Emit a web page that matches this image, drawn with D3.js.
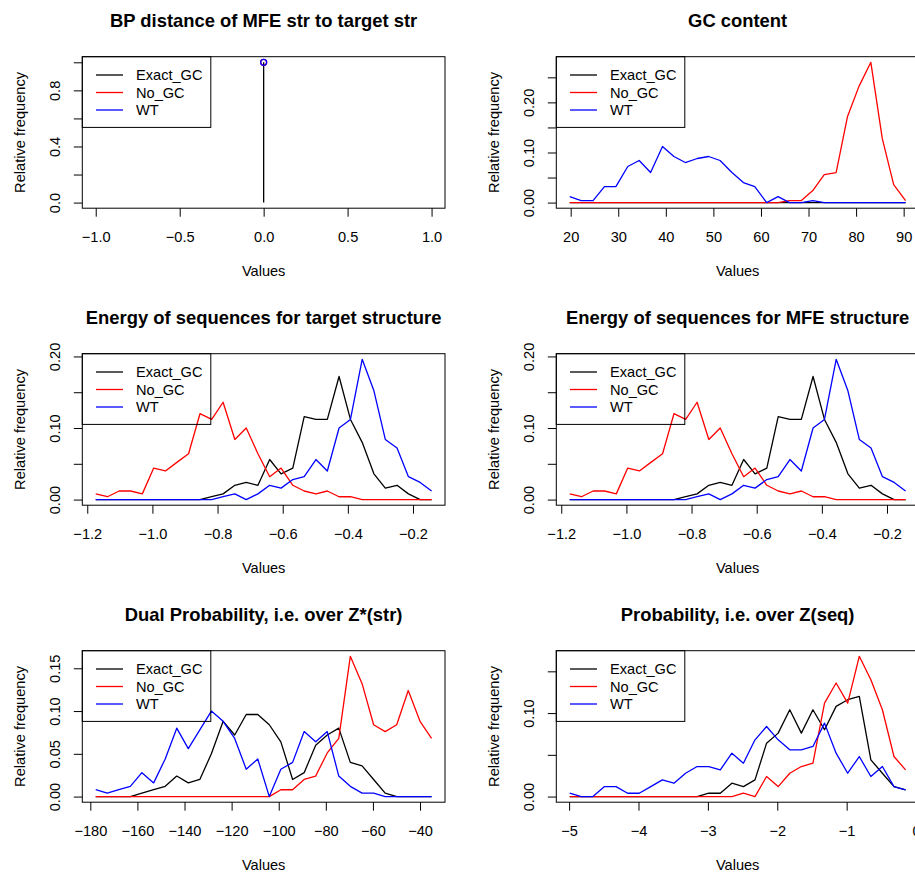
<!DOCTYPE html>
<html>
<head>
<meta charset="utf-8">
<script src="https://cdn.jsdelivr.net/npm/d3@7"></script>
<style>
  body { margin: 0; background: #fff; }
  text { font-family: "Liberation Sans", Arial, Helvetica, sans-serif; }
</style>
</head>
<body>
<script>

//Series names and colours (same for every panel)
var seriesNames = ["Exact_GC", "No_GC", "WT"];
var seriesColors = ["#000000", "#ff0000", "#0000ff"];

//BP distance of MFE str to target str
var bpX = [0];
var bpExact = [1];
var bpNoGC = [1];
var bpWT = [1];
var bpXTicks = [-1, -0.5, 0, 0.5, 1];
var bpYTicks = [0, 0.2, 0.4, 0.6, 0.8, 1.0];
var bpYLabels = [0, 0.4, 0.8];

//GC content
var gcX = [19.8, 22.2, 24.7, 27.1, 29.5, 32.0, 34.4, 36.8, 39.3, 41.7, 44.1, 46.6, 49.0, 51.4, 53.9,
           56.3, 58.7, 61.2, 63.6, 66.0, 68.5, 70.9, 73.3, 75.8, 78.2, 80.6, 83.1, 85.5, 87.9, 90.4];
var gcExact = [0, 0, 0, 0, 0, 0, 0, 0, 0, 0, 0, 0, 0, 0, 0,
               0, 0, 0, 0, 0, 0, 0, 0, 0, 0, 0, 0, 0, 0, 0];
var gcNoGC = [0, 0, 0, 0, 0, 0, 0, 0, 0, 0, 0, 0, 0, 0, 0,
              0, 0, 0, 0, 0.004, 0.004, 0.024, 0.056, 0.060, 0.172, 0.232, 0.280, 0.128, 0.036, 0.004];
var gcWT = [0.012, 0.004, 0.004, 0.032, 0.032, 0.072, 0.084, 0.060, 0.112, 0.092, 0.080, 0.088, 0.092, 0.084, 0.060,
            0.040, 0.032, 0, 0.012, 0, 0, 0.004, 0, 0, 0, 0, 0, 0, 0, 0];
var gcXTicks = [20, 30, 40, 50, 60, 70, 80, 90];
var gcYTicks = [0, 0.05, 0.10, 0.15, 0.20, 0.25];
var gcYLabels = [0, 0.10, 0.20];

//Energy of sequences (target structure and MFE structure)
var enX = [-1.174, -1.138, -1.102, -1.067, -1.031, -0.996, -0.960, -0.925, -0.889, -0.854,
           -0.818, -0.783, -0.747, -0.712, -0.676, -0.640, -0.605, -0.569, -0.534, -0.498,
           -0.463, -0.427, -0.392, -0.356, -0.320, -0.285, -0.249, -0.214, -0.178, -0.143];
var enExact = [0, 0, 0, 0, 0, 0, 0, 0, 0, 0,
               0.004, 0.008, 0.020, 0.024, 0.020, 0.056, 0.036, 0.044, 0.116, 0.112,
               0.112, 0.172, 0.112, 0.080, 0.036, 0.016, 0.020, 0.008, 0, 0];
var enNoGC = [0.008, 0.004, 0.012, 0.012, 0.008, 0.044, 0.040, 0.052, 0.064, 0.120,
              0.112, 0.136, 0.084, 0.100, 0.064, 0.032, 0.044, 0.020, 0.012, 0.008,
              0.012, 0.004, 0.004, 0, 0, 0, 0, 0, 0, 0];
var enWT = [0, 0, 0, 0, 0, 0, 0, 0, 0, 0,
            0, 0.004, 0.008, 0, 0.008, 0.020, 0.016, 0.028, 0.032, 0.056,
            0.040, 0.100, 0.112, 0.196, 0.152, 0.084, 0.072, 0.032, 0.024, 0.012];
var enXTicks = [-1.2, -1.0, -0.8, -0.6, -0.4, -0.2];
var enYTicks = [0, 0.05, 0.10, 0.15, 0.20];
var enYLabels = [0, 0.10, 0.20];

//Dual Probability, i.e. over Z*(str)
var duX = [-177.7, -172.8, -167.9, -163.0, -158.1, -153.1, -148.2, -143.3, -138.4, -133.5,
           -128.6, -123.6, -118.7, -113.8, -108.9, -104.0, -99.1, -94.1, -89.2, -84.3,
           -79.4, -74.5, -69.6, -64.6, -59.7, -54.8, -49.9, -45.0, -40.0, -35.1];
var duExact = [0, 0, 0, 0, 0.004, 0.008, 0.012, 0.024, 0.016, 0.020,
               0.050, 0.088, 0.072, 0.096, 0.096, 0.084, 0.064, 0.020, 0.028, 0.060,
               0.072, 0.080, 0.040, 0.036, 0.020, 0.004, 0, 0, 0, 0];
var duNoGC = [0, 0, 0, 0, 0, 0, 0, 0, 0, 0,
              0, 0, 0, 0, 0, 0, 0.008, 0.008, 0.020, 0.024,
              0.051, 0.068, 0.164, 0.132, 0.084, 0.076, 0.084, 0.124, 0.088, 0.068];
var duWT = [0.008, 0.004, 0.008, 0.012, 0.028, 0.016, 0.044, 0.080, 0.056, 0.078,
            0.100, 0.088, 0.068, 0.032, 0.044, 0, 0.032, 0.040, 0.076, 0.064,
            0.076, 0.024, 0.012, 0.004, 0.004, 0, 0, 0, 0, 0];
var duXTicks = [-180, -160, -140, -120, -100, -80, -60, -40];
var duYTicks = [0, 0.05, 0.10, 0.15];
var duYLabels = [0, 0.05, 0.10, 0.15];

//Probability, i.e. over Z(seq)
var prX = [-4.991, -4.824, -4.657, -4.490, -4.323, -4.157, -3.990, -3.823, -3.656, -3.489,
           -3.322, -3.155, -2.988, -2.821, -2.654, -2.488, -2.321, -2.154, -1.987, -1.820,
           -1.653, -1.486, -1.319, -1.152, -0.985, -0.818, -0.651, -0.485, -0.318, -0.151];
var prExact = [0, 0, 0, 0, 0, 0, 0, 0, 0, 0,
               0, 0, 0.004, 0.004, 0.016, 0.012, 0.020, 0.064, 0.076, 0.104,
               0.076, 0.104, 0.080, 0.108, 0.116, 0.120, 0.044, 0.028, 0.012, 0.008];
var prNoGC = [0, 0, 0, 0, 0, 0, 0, 0, 0, 0,
              0, 0, 0, 0, 0, 0.004, 0, 0.024, 0.012, 0.028,
              0.036, 0.040, 0.112, 0.136, 0.112, 0.168, 0.140, 0.104, 0.048, 0.032];
var prWT = [0.004, 0, 0, 0.012, 0.012, 0.004, 0.004, 0.012, 0.020, 0.016,
            0.028, 0.036, 0.036, 0.032, 0.052, 0.040, 0.068, 0.084, 0.068, 0.056,
            0.056, 0.060, 0.088, 0.052, 0.028, 0.048, 0.024, 0.036, 0.012, 0.008];
var prXTicks = [-5, -4, -3, -2, -1, 0];
var prYTicks = [0, 0.05, 0.10, 0.15];
var prYLabels = [0, 0.10];

//Panel table built from the arrays above
var panels = [
  { title: "BP distance of MFE str to target str", col: 0, row: 0, x: bpX, ys: [bpExact, bpNoGC, bpWT],
    xTicks: bpXTicks, yTicks: bpYTicks, yLabels: bpYLabels, xFmt: ".1f", yFmt: ".1f", spike: true },
  { title: "GC content", col: 1, row: 0, x: gcX, ys: [gcExact, gcNoGC, gcWT],
    xTicks: gcXTicks, yTicks: gcYTicks, yLabels: gcYLabels, xFmt: ".0f", yFmt: ".2f" },
  { title: "Energy of sequences for target structure", col: 0, row: 1, x: enX, ys: [enExact, enNoGC, enWT],
    xTicks: enXTicks, yTicks: enYTicks, yLabels: enYLabels, xFmt: ".1f", yFmt: ".2f" },
  { title: "Energy of sequences for MFE structure", col: 1, row: 1, x: enX, ys: [enExact, enNoGC, enWT],
    xTicks: enXTicks, yTicks: enYTicks, yLabels: enYLabels, xFmt: ".1f", yFmt: ".2f" },
  { title: "Dual Probability, i.e. over Z*(str)", col: 0, row: 2, x: duX, ys: [duExact, duNoGC, duWT],
    xTicks: duXTicks, yTicks: duYTicks, yLabels: duYLabels, xFmt: ".0f", yFmt: ".2f" },
  { title: "Probability, i.e. over Z(seq)", col: 1, row: 2, x: prX, ys: [prExact, prNoGC, prWT],
    xTicks: prXTicks, yTicks: prYTicks, yLabels: prYLabels, xFmt: ".0f", yFmt: ".2f" }
];

//Create the SVG Viewport
var svg = d3.select("body").append("svg")
            .attr("width", 915)
            .attr("height", 872);

var fontSize = 14.6;

//R style axis range: data range widened by 4% on each side
function rRange(ext) {
  var lo = ext[0], hi = ext[1];
  if (lo === hi) { lo = lo - 1; hi = hi + 1; }
  var pad = (hi - lo) * 0.04;
  return [lo - pad, hi + pad];
}

function drawPanel(p) {
  var left = 82.3 + p.col * 474;
  var top = 56.7 + p.row * 297;
  var w = 362.7, h = 151.5;

  var allY = [0].concat(p.ys[0], p.ys[1], p.ys[2]);
  var x = d3.scaleLinear().domain(rRange(d3.extent(p.x))).range([left, left + w]);
  var y = d3.scaleLinear().domain(rRange(d3.extent(allY))).range([top + h, top]);

  var g = svg.append("g");

  //Curves
  if (p.spike) {
    //first series as vertical spike, the others as open circles
    g.selectAll("line.spike")
     .data(p.x)
     .enter()
     .append("line")
     .attr("x1", function (d) { return x(d); })
     .attr("x2", function (d) { return x(d); })
     .attr("y1", y(0))
     .attr("y2", function (d, i) { return y(p.ys[0][i]); })
     .attr("stroke", seriesColors[0])
     .attr("stroke-width", 1.3);
    [1, 2].forEach(function (s) {
      g.selectAll("circle.s" + s)
       .data(p.x)
       .enter()
       .append("circle")
       .attr("cx", function (d) { return x(d); })
       .attr("cy", function (d, i) { return y(p.ys[s][i]); })
       .attr("r", 3)
       .attr("fill", "none")
       .attr("stroke", seriesColors[s])
       .attr("stroke-width", 1.3);
    });
  } else {
    p.ys.forEach(function (vals, s) {
      var line = d3.line()
                   .x(function (d, i) { return x(p.x[i]); })
                   .y(function (d) { return y(d); });
      g.append("path")
       .datum(vals)
       .attr("d", line)
       .attr("fill", "none")
       .attr("stroke", seriesColors[s])
       .attr("stroke-width", 1.3)
       .attr("stroke-linejoin", "round");
    });
  }

  //Box round the plot region
  g.append("rect")
   .attr("x", left).attr("y", top)
   .attr("width", w).attr("height", h)
   .attr("fill", "none")
   .attr("stroke", "#000")
   .attr("stroke-width", 1);

  //X axis
  var xFmt = d3.format(p.xFmt);
  g.append("g")
   .attr("transform", "translate(0," + (top + h) + ")")
   .call(d3.axisBottom(x).tickValues(p.xTicks).tickFormat(xFmt)
           .tickSize(8.5).tickSizeOuter(0).tickPadding(14.5))
   .call(function (a) { a.select(".domain").remove(); })
   .attr("font-size", fontSize)
   .attr("font-family", null);

  //Y axis, labels turned like R does
  var yFmt = d3.format(p.yFmt);
  g.append("g")
   .attr("transform", "translate(" + left + ",0)")
   .call(d3.axisLeft(y).tickValues(p.yTicks)
           .tickFormat(function (d) {
             var show = p.yLabels.some(function (v) { return Math.abs(v - d) < 1e-9; });
             return show ? yFmt(d) : "";
           })
           .tickSize(8.5).tickSizeOuter(0))
   .call(function (a) {
     a.select(".domain").remove();
     a.selectAll(".tick text")
      .attr("transform", "rotate(-90)")
      .attr("x", 0)
      .attr("y", -22)
      .attr("dy", 0)
      .attr("text-anchor", "middle");
   })
   .attr("font-size", fontSize)
   .attr("font-family", null);

  //Title
  g.append("text")
   .attr("x", left + w / 2)
   .attr("y", top - 30)
   .attr("text-anchor", "middle")
   .attr("font-size", 18.4)
   .attr("font-weight", "bold")
   .text(p.title);

  //Axis titles
  g.append("text")
   .attr("x", left + w / 2)
   .attr("y", top + h + 68)
   .attr("text-anchor", "middle")
   .attr("font-size", fontSize)
   .text("Values");

  g.append("text")
   .attr("transform", "translate(" + (left - 57.3) + "," + (top + h / 2) + ") rotate(-90)")
   .attr("text-anchor", "middle")
   .attr("font-size", fontSize)
   .text("Relative frequency");

  //Legend
  var leg = g.append("g");
  leg.append("rect")
     .attr("x", left).attr("y", top)
     .attr("width", 128.5).attr("height", 70.7)
     .attr("fill", "none")
     .attr("stroke", "#000")
     .attr("stroke-width", 1);
  var rows = leg.selectAll("g.row")
                .data(seriesNames)
                .enter()
                .append("g");
  rows.append("line")
      .attr("x1", left + 13.7)
      .attr("x2", left + 40.7)
      .attr("y1", function (d, i) { return top + 18.3 + 17.5 * i; })
      .attr("y2", function (d, i) { return top + 18.3 + 17.5 * i; })
      .attr("stroke", function (d, i) { return seriesColors[i]; })
      .attr("stroke-width", 1.3);
  rows.append("text")
      .attr("x", left + 53.7)
      .attr("y", function (d, i) { return top + 18.3 + 17.5 * i; })
      .attr("dy", "0.36em")
      .attr("font-size", fontSize)
      .text(function (d) { return d; });
}

panels.forEach(drawPanel);

</script>
</body>
</html>
